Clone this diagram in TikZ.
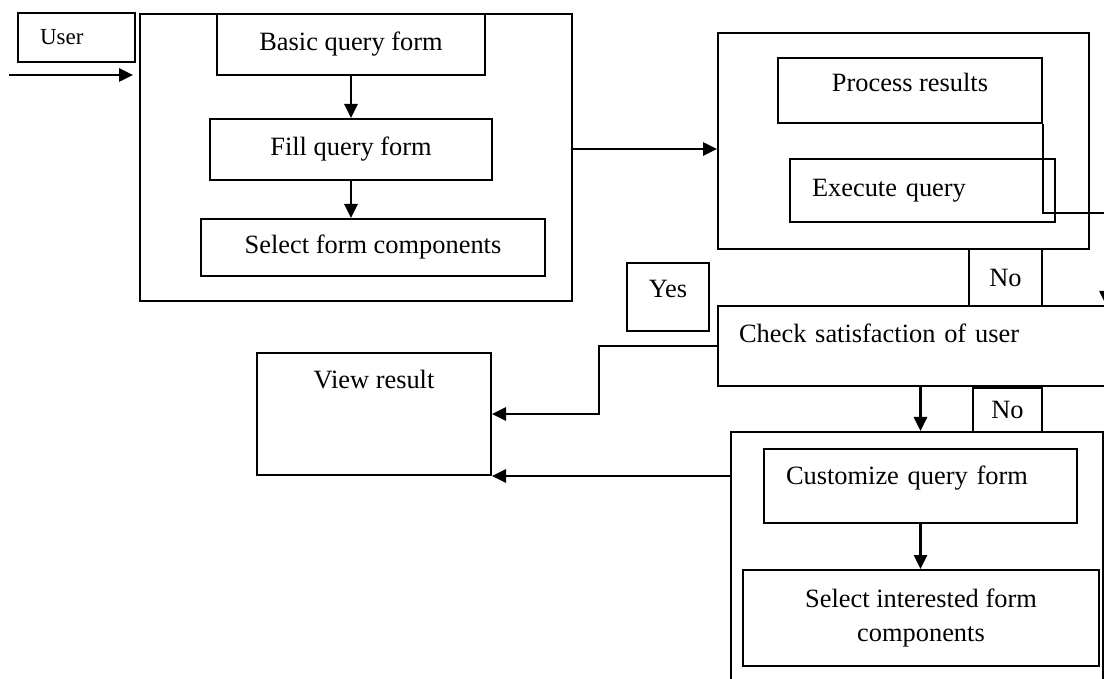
\documentclass[tikz,border=0pt]{standalone}
\usepackage{fontspec}
\setmainfont{Liberation Serif}
\usetikzlibrary{arrows.meta, positioning}

\begin{document}
\begin{tikzpicture}[
    x=0.5pt, y=-0.5pt,
    box/.style={rectangle, draw, line width=1pt, anchor=north west, inner sep=0pt, align=center, font=\fontsize{13.2}{17}\selectfont},
    lbox/.style={box, align=left, inner xsep=11pt},
    arrow/.style={-{Triangle[length=7pt,width=6.5pt]}, line width=1.3pt}
]
\clip (0,0) rectangle (1104,679);

% first stage
\node[lbox, minimum height=24.5pt, text width=36.5pt, font=\fontsize{11.5}{14}\selectfont] (user) at (17,12) {User};
\node[box, minimum width=216pt, minimum height=143.5pt] (outer1) at (139,13) {};
\node[box, minimum width=134pt, minimum height=30.5pt] (basic) at (216,13) {Basic query form};
\node[box, minimum width=141pt, minimum height=30.5pt] (fill) at (209,118) {Fill query form};
\node[box, minimum width=172pt, minimum height=28.5pt] (selform) at (200,218) {Select form components};

% query execution
\node[box, minimum width=185.5pt, minimum height=108pt] (outer2) at (717,32) {};
\node[box, minimum width=132pt, text height=17pt, text depth=15.5pt] (process) at (777,57) {Process results};
\node[lbox, minimum height=31.5pt, text width=110.5pt] (execute) at (789,158) {Execute query};

% decision
\node[box, minimum width=36.5pt, minimum height=28.5pt] (no1) at (968,248) {No};
\node[lbox, inner xsep=10.5pt, text width=175.5pt, text height=18.5pt, text depth=21.5pt] (check) at (717,305) {Check satisfaction of user};
\node[box, minimum width=41pt, text height=17.5pt, text depth=16.5pt] (yes) at (626,262) {Yes};
\node[box, minimum width=117pt, text height=18pt, text depth=43pt] (view) at (256,352) {View result};
\node[box, minimum width=34.5pt, minimum height=22pt] (no2) at (972,387) {No};

% customization
\node[box, minimum width=186pt, minimum height=145pt] (outer3) at (730,431) {};
\node[lbox, text width=134.5pt, text height=18pt, text depth=19pt] (customize) at (763,448) {Customize query form};
\node[box, minimum width=178pt, minimum height=48pt] (selint) at (742,569) {Select interested form\\components};

% connectors
\coordinate (in) at (9,75);
\coordinate (bend) at (1106,213);
\coordinate (jog) at (599,0);
\draw[arrow, shorten >=3pt] (in) -- (in -| outer1.west);
\draw[arrow] (basic.south) -- (fill.north);
\draw[arrow] (fill.south) -- (fill.south |- selform.north);
\draw[arrow] ([yshift=4.25pt]outer1.east) -- ([yshift=4.25pt]outer1.east -| outer2.west);
\draw[arrow] (process.south east) |- (bend) -- (bend |- check.north);
\draw[arrow] (check.west) -- (check.west -| jog) |- (view.east);
\draw[arrow] (customize.north |- check.south) -- (customize.north |- outer3.north);
\draw[arrow] (customize.south) -- (customize.south |- selint.north);
\draw[arrow] (view.south east -| outer3.west) -- (view.south east);

\end{tikzpicture}
\end{document}
